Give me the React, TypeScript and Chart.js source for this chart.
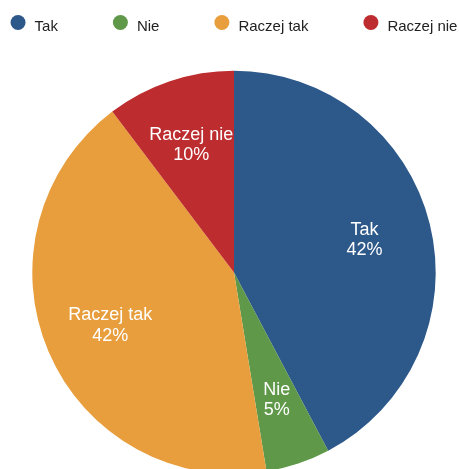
import React, { useEffect, useRef } from "react";
import { Chart, registerables } from "chart.js";

Chart.register(...registerables);

const categories = ["Tak", "Nie", "Raczej tak", "Raczej nie"];
const counts = [41, 5, 41, 10];
const colors = ["#2d588a", "#5e9848", "#e89e3d", "#bd2c2e"];

const FONT = "'Liberation Sans', Arial, Helvetica, sans-serif";

const legendPlugin = {
  id: "customLegend",
  afterDraw(chart: any) {
    const ctx = chart.ctx;
    const labels: string[] = chart.data.labels;
    const bg: string[] = chart.data.datasets[0].backgroundColor;
    ctx.save();
    ctx.font = `15px ${FONT}`;
    const circleD = 15;
    const gap = 9;
    const itemGap = 55;
    const widths = labels.map((l) => ctx.measureText(l).width);
    const total =
      widths.reduce((a, w) => a + circleD + gap + w, 0) + itemGap * (labels.length - 1);
    let x = chart.width / 2 - total / 2;
    const cy = 22.5;
    labels.forEach((l, i) => {
      ctx.beginPath();
      ctx.fillStyle = bg[i];
      ctx.arc(x + circleD / 2, cy, circleD / 2, 0, Math.PI * 2);
      ctx.fill();
      ctx.fillStyle = "#222";
      ctx.textAlign = "left";
      ctx.textBaseline = "alphabetic";
      ctx.fillText(l, x + circleD + gap, 31);
      x += circleD + gap + widths[i] + itemGap;
    });
    ctx.restore();
  },
};

const sliceLabelPlugin = {
  id: "sliceLabels",
  afterDatasetsDraw(chart: any) {
    const ctx = chart.ctx;
    const meta = chart.getDatasetMeta(0);
    const data: number[] = chart.data.datasets[0].data;
    const sum = data.reduce((a, b) => a + b, 0);
    ctx.save();
    ctx.font = `18px ${FONT}`;
    ctx.fillStyle = "#ffffff";
    ctx.textAlign = "center";
    ctx.textBaseline = "middle";
    meta.data.forEach((arc: any, i: number) => {
      const p = arc.getProps(["x", "y", "startAngle", "endAngle", "outerRadius"], true);
      const mid = (p.startAngle + p.endAngle) / 2;
      const r = p.outerRadius * 0.667;
      const cx = p.x + Math.cos(mid) * r;
      const cy = p.y + Math.sin(mid) * r;
      const pct = Math.round((data[i] / sum) * 100) + "%";
      ctx.fillText(chart.data.labels[i], cx, cy - 10.3);
      ctx.fillText(pct, cx, cy + 10.3);
    });
    ctx.restore();
  },
};

export default function App() {
  const ref = useRef<HTMLCanvasElement | null>(null);
  useEffect(() => {
    if (!ref.current) return;
    Chart.defaults.font.family = FONT;
    const chart = new Chart(ref.current, {
      type: "pie",
      data: {
        labels: categories,
        datasets: [
          {
            data: counts,
            backgroundColor: colors,
            borderWidth: 0,
          },
        ],
      },
      options: {
        responsive: false,
        animation: false,
        layout: { padding: { top: 70.7, bottom: 5.9, left: 0, right: 0 } },
        plugins: {
          legend: { display: false },
          tooltip: { enabled: false },
        },
      },
      plugins: [legendPlugin, sliceLabelPlugin],
    });
    return () => chart.destroy();
  }, []);
  return (
    <div
      style={{
        position: "fixed",
        left: 0,
        top: 0,
        width: 459,
        height: 469,
        overflow: "hidden",
        background: "#fff",
      }}
    >
      <canvas ref={ref} width={468} height={480} style={{ display: "block" }} />
    </div>
  );
}
